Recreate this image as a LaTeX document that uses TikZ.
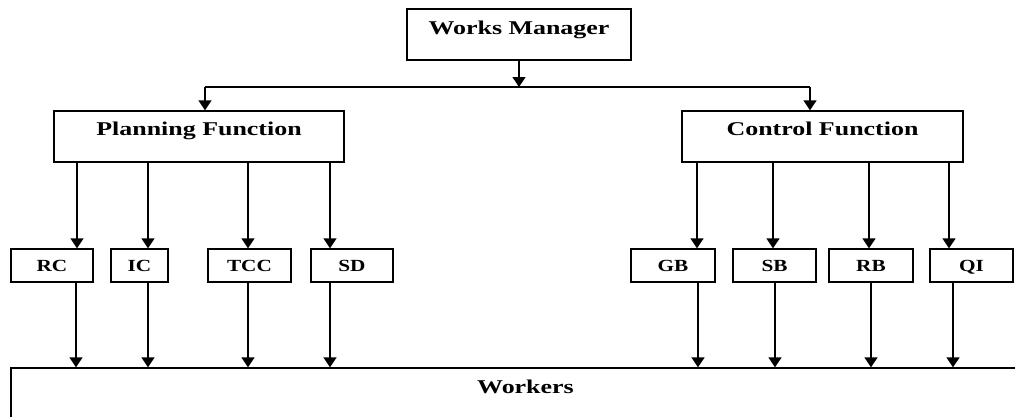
\documentclass[tikz,border=0pt]{standalone}
\usepackage{fontspec}
\setmainfont{Liberation Serif}
\usepackage{graphicx}
\usetikzlibrary{arrows.meta}

\newcommand{\biglab}[1]{\scalebox{1.33}[1]{\fontsize{19.5}{22}\selectfont\bfseries #1}}
\newcommand{\smalllab}[1]{\scalebox{1.25}[1]{\fontsize{17}{20}\selectfont\bfseries #1}}

\tikzset{
	box/.style={draw, line width=1.3pt, inner sep=0pt},
	headbox/.style={box, minimum height=51pt, text height=24pt, text depth=27pt},
	unitbox/.style={box, minimum height=33pt, text height=22pt, text depth=11pt},
	arr/.style={->, line width=1.4pt}
}

\begin{document}
\begin{tikzpicture}[x=1pt, y=-1pt, >={Triangle[length=10pt,width=13pt]}]
			\useasboundingbox (0,0) rectangle (1015,416);
			\clip (0,0) rectangle (1015,416);
			
			\node[headbox, minimum width=224pt, text height=25pt, text depth=26pt] (wm) at (519,34.5) {\biglab{Works Manager}};
			\node[headbox, minimum width=290pt] (pf) at (199,136.5) {\biglab{Planning Function}};
			\node[headbox, minimum width=281pt] (cf) at (822.5,136.5) {\biglab{Control Function}};
			
			% planning side
			\node[unitbox, minimum width=82pt] (rc) at (52,265.5) {\smalllab{RC}};
			\node[unitbox, minimum width=57pt] (ic) at (139.5,265.5) {\smalllab{IC}};
			\node[unitbox, minimum width=83pt] (tcc) at (249.5,265.5) {\smalllab{TCC}};
			\node[unitbox, minimum width=82pt] (sd) at (352,265.5) {\smalllab{SD}};
			
			% control side
			\node[unitbox, minimum width=84pt] (gb) at (673,265.5) {\smalllab{GB}};
			\node[unitbox, minimum width=83pt] (sb) at (774.5,265.5) {\smalllab{SB}};
			\node[unitbox, minimum width=84pt] (rb) at (871,265.5) {\smalllab{RB}};
			\node[unitbox, minimum width=83pt] (qi) at (971.5,265.5) {\smalllab{QI}};
			
			\node[box, minimum width=1029pt, minimum height=72pt, text height=25pt, text depth=47pt] (wk) at (525.5,404) {\biglab{Workers}};
			
			% manager to both functions
			\coordinate (busL) at (205,87);
			\coordinate (busR) at (810,87);
			\draw[arr] (wm.south) -- (wm.south |- busL);
			\draw[line width=1.4pt] (busL) -- (busR);
			\draw[arr] (busL) -- (busL |- pf.north);
			\draw[arr] (busR) -- (busR |- cf.north);
			
			% planning function to its units
			\draw[arr] ([xshift=25pt]rc.north |- pf.south) -- ([xshift=25pt]rc.north);
			\draw[arr] ([xshift=8.5pt]ic.north |- pf.south) -- ([xshift=8.5pt]ic.north);
			\draw[arr] ([xshift=-1.5pt]tcc.north |- pf.south) -- ([xshift=-1.5pt]tcc.north);
			\draw[arr] ([xshift=-22pt]sd.north |- pf.south) -- ([xshift=-22pt]sd.north);
			
			% control function to its units
			\draw[arr] ([xshift=24pt]gb.north |- cf.south) -- ([xshift=24pt]gb.north);
			\draw[arr] ([xshift=-1.5pt]sb.north |- cf.south) -- ([xshift=-1.5pt]sb.north);
			\draw[arr] ([xshift=-2pt]rb.north |- cf.south) -- ([xshift=-2pt]rb.north);
			\draw[arr] ([xshift=-22.5pt]qi.north |- cf.south) -- ([xshift=-22.5pt]qi.north);
			
			% units down to workers
			\draw[arr] ([xshift=24pt]rc.south) -- ([xshift=24pt]rc.south |- wk.north);
			\draw[arr] ([xshift=8.5pt]ic.south) -- ([xshift=8.5pt]ic.south |- wk.north);
			\draw[arr] ([xshift=-1.5pt]tcc.south) -- ([xshift=-1.5pt]tcc.south |- wk.north);
			\draw[arr] ([xshift=-22pt]sd.south) -- ([xshift=-22pt]sd.south |- wk.north);
			\draw[arr] ([xshift=25pt]gb.south) -- ([xshift=25pt]gb.south |- wk.north);
			\draw[arr] ([xshift=0.5pt]sb.south) -- ([xshift=0.5pt]sb.south |- wk.north);
			\draw[arr] ([xshift=0pt]rb.south) -- ([xshift=0pt]rb.south |- wk.north);
			\draw[arr] ([xshift=-18.5pt]qi.south) -- ([xshift=-18.5pt]qi.south |- wk.north);
\end{tikzpicture}
\end{document}
